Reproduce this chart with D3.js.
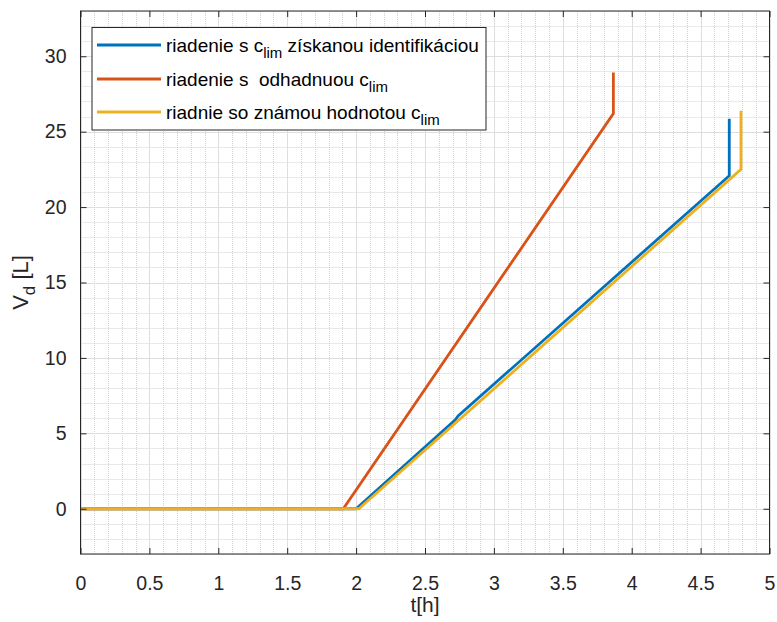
<!DOCTYPE html>
<html>
<head>
<meta charset="utf-8">
<script src="https://cdn.jsdelivr.net/npm/d3@7"></script>
<style>
  html, body { margin: 0; padding: 0; background: #fff; }
  svg { display: block; font-family: "Liberation Sans", Arial, sans-serif; }
  text { white-space: pre; }
</style>
</head>
<body>
<svg id="chart" width="777" height="622"></svg>
<script>
// Series: time t [h] and dosed volume V_d [L]
const blueT = [0, 2.0, 2.72, 2.74, 4.708, 4.708];
const blueV = [0, 0, 5.9, 6.15, 22.08, 25.85];
const orangeT = [0, 1.907, 3.867, 3.867];
const orangeV = [0, 0, 26.2, 28.92];
const yellowT = [0, 2.02, 4.793, 4.793];
const yellowV = [0, 0, 22.5, 26.38];

const xTicks = [0, 0.5, 1, 1.5, 2, 2.5, 3, 3.5, 4, 4.5, 5];
const yTicks = [0, 5, 10, 15, 20, 25, 30];

const legendLabels = [
  ["riadenie s c", "lim", " získanou identifikáciou"],
  ["riadenie s  odhadnuou c", "lim", ""],
  ["riadnie so známou hodnotou c", "lim", ""]
];
const colors = ["#0072BD", "#D95319", "#EDB120"];

const svg = d3.select("#chart");
const L = 80.5, R = 769.5, T = 11, B = 554;

const x = d3.scaleLinear().domain([0, 5]).range([L, R]);
const y = d3.scaleLinear().domain([-3, 33]).range([B, T]);

// minor grid (dotted)
const g = svg.append("g");
const xMinor = d3.range(0, 5.0001, 0.1).map(v => +v.toFixed(2));
const yMinor = d3.range(-3, 33.0001, 1);
g.selectAll(".xm").data(xMinor).enter().append("line")
  .attr("x1", d => Math.round(x(d)) + 0.5).attr("x2", d => Math.round(x(d)) + 0.5)
  .attr("y1", T).attr("y2", B)
  .attr("stroke", "#d2d2d2").attr("stroke-width", 1).attr("stroke-dasharray", "1,1");
g.selectAll(".ym").data(yMinor).enter().append("line")
  .attr("y1", d => Math.round(y(d)) + 0.5).attr("y2", d => Math.round(y(d)) + 0.5)
  .attr("x1", L).attr("x2", R)
  .attr("stroke", "#d2d2d2").attr("stroke-width", 1).attr("stroke-dasharray", "1,1");
// major grid (solid)
g.selectAll(".xM").data(xTicks).enter().append("line")
  .attr("x1", d => Math.round(x(d)) + 0.5).attr("x2", d => Math.round(x(d)) + 0.5)
  .attr("y1", T).attr("y2", B)
  .attr("stroke", "#dedede").attr("stroke-width", 1);
g.selectAll(".yM").data(yTicks).enter().append("line")
  .attr("y1", d => Math.round(y(d)) + 0.5).attr("y2", d => Math.round(y(d)) + 0.5)
  .attr("x1", L).attr("x2", R)
  .attr("stroke", "#dedede").attr("stroke-width", 1);

// data lines
const series = [
  [blueT, blueV, colors[0]],
  [orangeT, orangeV, colors[1]],
  [yellowT, yellowV, colors[2]]
];
const line = d3.line().x(d => x(d[0])).y(d => y(d[1]));
series.forEach(([ts, vs, c]) => {
  svg.append("path")
    .datum(ts.map((t, i) => [t, vs[i]]))
    .attr("d", line)
    .attr("fill", "none").attr("stroke", c).attr("stroke-width", 2.8)
    .attr("stroke-linejoin", "miter");
});

// axes with inward ticks, on all sides
const axisColor = "#262626";
const tick = 6;
const xAxisB = d3.axisBottom(x).tickValues(xTicks).tickSizeInner(-tick).tickSizeOuter(0).tickPadding(22)
  .tickFormat(d3.format("~g"));
const xAxisT = d3.axisTop(x).tickValues(xTicks).tickSizeInner(-tick).tickSizeOuter(0).tickFormat("");
const yAxisL = d3.axisLeft(y).tickValues(yTicks).tickSizeInner(-tick).tickSizeOuter(0).tickPadding(14)
  .tickFormat(d3.format("~g"));
const yAxisR = d3.axisRight(y).tickValues(yTicks).tickSizeInner(-tick).tickSizeOuter(0).tickFormat("");

function styleAxis(sel) {
  sel.select(".domain").remove();
  sel.selectAll("line").attr("stroke", axisColor);
  sel.selectAll("text").attr("fill", axisColor).style("font-size", "19.5px")
     .style("font-family", "'Liberation Sans', Arial, sans-serif");
}
svg.append("g").attr("transform", `translate(0,${B})`).call(xAxisB).call(styleAxis);
svg.append("g").attr("transform", `translate(0,${T})`).call(xAxisT).call(styleAxis);
svg.append("g").attr("transform", `translate(${L},0)`).call(yAxisL).call(styleAxis);
svg.append("g").attr("transform", `translate(${R},0)`).call(yAxisR).call(styleAxis);

svg.append("rect").attr("x", L).attr("y", T).attr("width", R - L).attr("height", B - T)
  .attr("fill", "none").attr("stroke", axisColor).attr("stroke-width", 1);

// axis labels
svg.append("text").attr("x", (L + R) / 2).attr("y", 612).attr("text-anchor", "middle")
  .attr("fill", axisColor).style("font-size", "21px").text("t[h]");
const yl = svg.append("text").attr("transform", `translate(28,${(T + B) / 2}) rotate(-90)`)
  .attr("text-anchor", "middle").attr("fill", axisColor).style("font-size", "22px");
yl.append("tspan").text("V");
yl.append("tspan").attr("dy", 7).style("font-size", "17px").text("d");
yl.append("tspan").attr("dy", -7).text(" [L]");

// legend
const lg = svg.append("g");
lg.append("rect").attr("x", 92).attr("y", 27.5).attr("width", 394).attr("height", 102.5)
  .attr("fill", "#fff").attr("stroke", axisColor).attr("stroke-width", 1);
const rowsY = [45, 79, 112];
legendLabels.forEach((parts, i) => {
  lg.append("line").attr("x1", 97).attr("x2", 161).attr("y1", rowsY[i]).attr("y2", rowsY[i])
    .attr("stroke", colors[i]).attr("stroke-width", 2.8);
  const t = lg.append("text").attr("x", 166).attr("y", rowsY[i] + 6.5)
    .attr("fill", "#000").style("font-size", "19px");
  t.append("tspan").text(parts[0]);
  t.append("tspan").attr("dy", 6).style("font-size", "15px").text(parts[1]);
  if (parts[2]) t.append("tspan").attr("dy", -6).text(parts[2]);
});
</script>
</body>
</html>
